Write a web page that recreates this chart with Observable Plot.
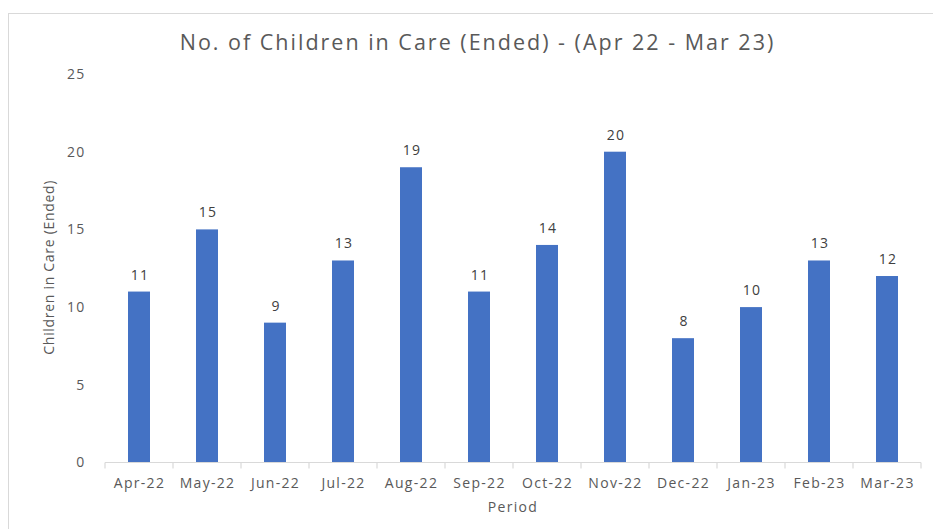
<!DOCTYPE html>
<html>
<head>
<meta charset="utf-8">
<script src="https://cdn.jsdelivr.net/npm/d3@7"></script>
<script src="https://cdn.jsdelivr.net/npm/@observablehq/plot@0.6"></script>
<style>
  html, body { margin: 0; padding: 0; background: #fff; }
  #wrap { position: relative; width: 933px; height: 529px; overflow: hidden; font-family: "Open Sans", sans-serif; }
  #frame { position: absolute; left: 8px; top: 13px; width: 940px; height: 540px; border: 1.5px solid #d9d9d9; box-sizing: border-box; }
  #title { position: absolute; left: 11px; top: 28px; width: 933px; text-align: center; font-size: 21.5px; color: #595959; line-height: 28px; letter-spacing: 2px; }
  #chart { position: absolute; left: 0; top: 60px; }
  #chart svg text { letter-spacing: 1.3px; }
  #chart svg text.ytitle { letter-spacing: 0.7px; }
</style>
</head>
<body>
<div id="wrap">
  <div id="frame"></div>
  <div id="title">No. of Children in Care (Ended) - (Apr 22 - Mar 23)</div>
  <div id="chart"></div>
</div>
<script>
const periods = ["Apr-22","May-22","Jun-22","Jul-22","Aug-22","Sep-22","Oct-22","Nov-22","Dec-22","Jan-23","Feb-23","Mar-23"];
const values = [11, 15, 9, 13, 19, 11, 14, 20, 8, 10, 13, 12];
const yTicks = [0, 5, 10, 15, 20, 25];

const data = periods.map((p, i) => ({period: p, value: values[i]}));

const plot = Plot.plot({
  width: 933,
  height: 469,
  marginTop: 14,
  marginBottom: 66.5,
  marginLeft: 104,
  marginRight: 11,
  style: {fontFamily: "Open Sans, sans-serif", fontSize: "14px", color: "#595959", background: "transparent", overflow: "visible"},
  x: {domain: periods, paddingInner: 0.675, paddingOuter: 0.3375, label: null},
  y: {domain: [0, 25], ticks: yTicks, label: null},
  marks: [
    Plot.barY(data, {x: "period", y: "value", fill: "#4472C4", inset: 0}),
    Plot.text(data, {x: "period", y: "value", text: d => String(d.value), dy: -17, dx: 0.6, fill: "#404040", fontSize: 14}),
    Plot.axisY({ticks: yTicks, tickSize: 0, tickPadding: 19, fontSize: 14, fill: "#595959"}),
    Plot.axisX({tickSize: 0, tickPadding: 15, fontSize: 14, fill: "#595959"})
  ]
});

document.getElementById("chart").appendChild(plot);

// category boundary ticks and baseline, from the band scale geometry
const xs = plot.scale("x");
const ys = plot.scale("y");
const svg = d3.select(plot);
const step = xs.step;
const b0 = xs.apply(periods[0]) - (step - xs.bandwidth) / 2;
const bounds = d3.range(periods.length + 1).map(i => b0 + i * step);
svg.append("g").selectAll("line").data(bounds).join("line")
  .attr("x1", d => d).attr("x2", d => d)
  .attr("y1", ys.apply(0)).attr("y2", ys.apply(0) + 6)
  .attr("stroke", "#d9d9d9").attr("stroke-width", 1.2);
svg.append("line")
  .attr("x1", bounds[0]).attr("x2", bounds[bounds.length - 1])
  .attr("y1", ys.apply(0)).attr("y2", ys.apply(0))
  .attr("stroke", "#d9d9d9").attr("stroke-width", 1.2);

// axis titles
svg.append("text")
  .attr("class", "ytitle")
  .attr("transform", `translate(50, ${(ys.apply(0) + ys.apply(25)) / 2 - 1}) rotate(-90)`)
  .attr("text-anchor", "middle").attr("dominant-baseline", "middle")
  .attr("fill", "#595959").attr("font-size", 14).text("Children in Care (Ended)");
svg.append("text")
  .attr("x", (bounds[0] + bounds[bounds.length - 1]) / 2)
  .attr("y", 448)
  .attr("text-anchor", "middle").attr("dominant-baseline", "middle")
  .attr("fill", "#595959").attr("font-size", 14).text("Period");
</script>
</body>
</html>
